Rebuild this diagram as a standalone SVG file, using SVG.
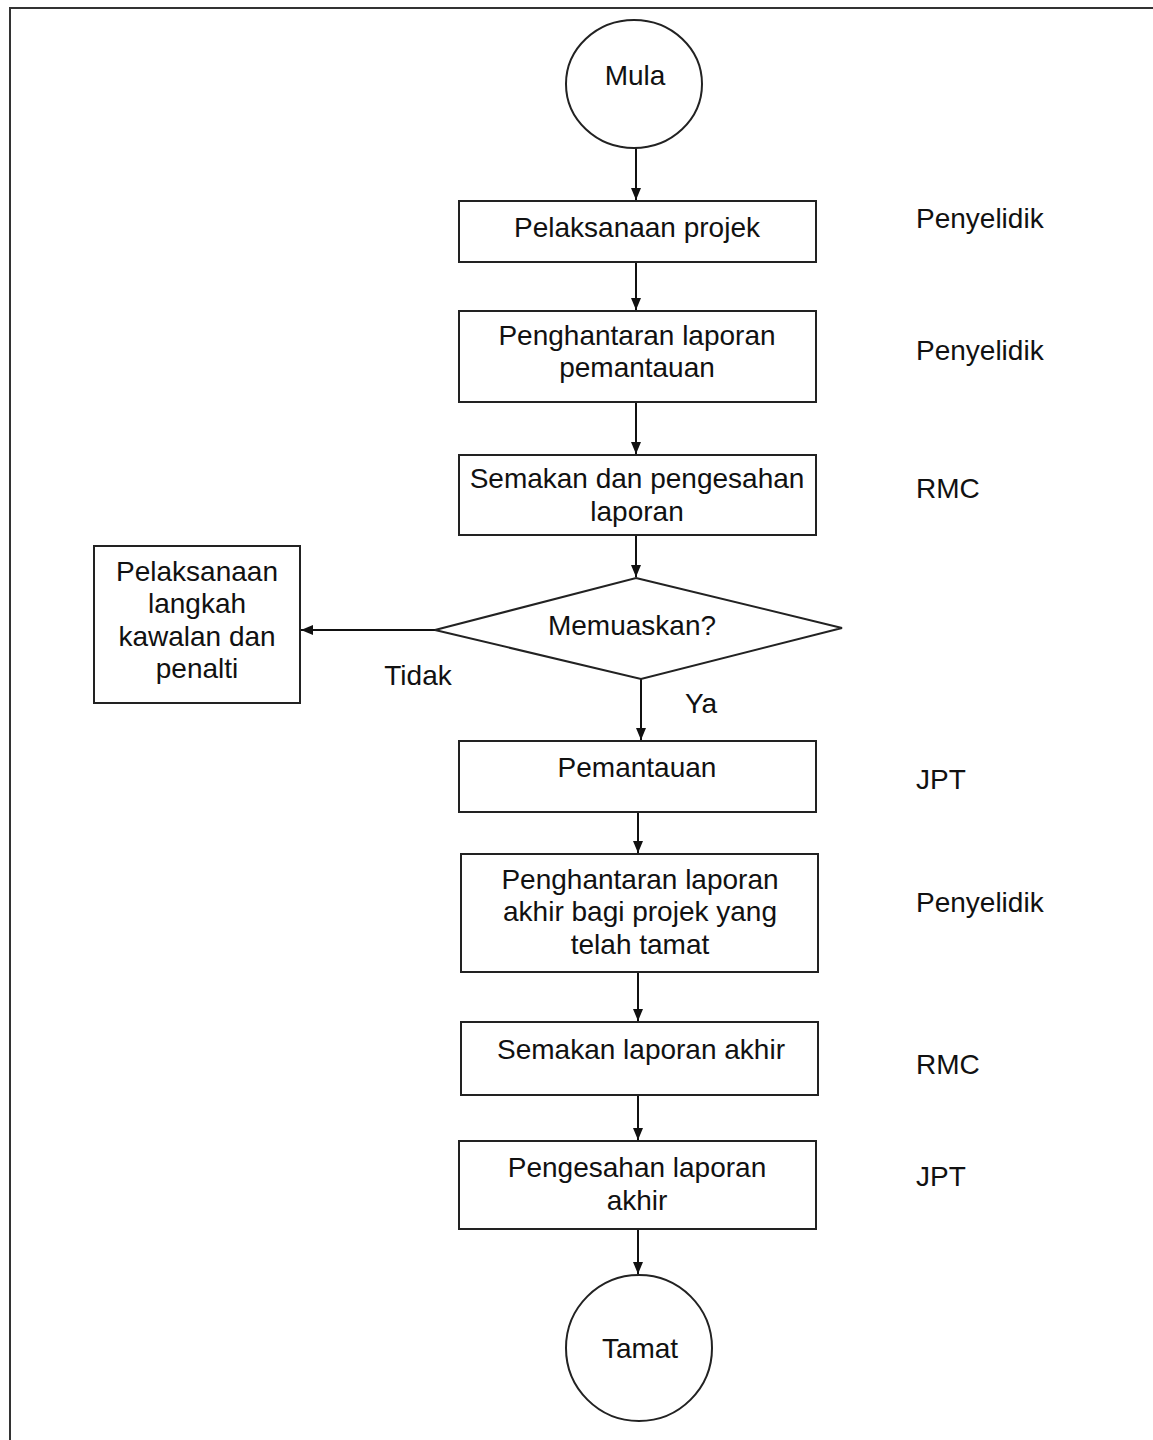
<svg xmlns="http://www.w3.org/2000/svg" width="1153" height="1440" viewBox="0 0 1153 1440">
<defs>
<style>
.n{fill:#fff;stroke:#222;stroke-width:2}
.t{font-family:"Liberation Sans",Arial,sans-serif;font-size:28px;fill:#111;text-anchor:middle}
.r{font-family:"Liberation Sans",Arial,sans-serif;font-size:28px;fill:#111;text-anchor:start}
.c{fill:none;stroke:#111;stroke-width:2}
</style>
<marker id="ah" viewBox="0 0 12 10" markerWidth="12" markerHeight="10" refX="12" refY="5" orient="auto" markerUnits="userSpaceOnUse">
<path d="M0,0 L12,5 L0,10 z" fill="#111"/>
</marker>
</defs>
<rect width="1153" height="1440" fill="#fff"/>
<rect x="10" y="8" width="1160" height="1450" fill="none" stroke="#333" stroke-width="2"/>

<g id="connectors">
<line class="c" x1="636" y1="148" x2="636" y2="200" marker-end="url(#ah)"/>
<line class="c" x1="636" y1="262" x2="636" y2="310" marker-end="url(#ah)"/>
<line class="c" x1="636" y1="402" x2="636" y2="454" marker-end="url(#ah)"/>
<line class="c" x1="636" y1="535" x2="636" y2="577" marker-end="url(#ah)"/>
<line class="c" x1="435" y1="630" x2="301" y2="630" marker-end="url(#ah)"/>
<line class="c" x1="641" y1="679" x2="641" y2="740" marker-end="url(#ah)"/>
<line class="c" x1="638" y1="812" x2="638" y2="853" marker-end="url(#ah)"/>
<line class="c" x1="638" y1="972" x2="638" y2="1021" marker-end="url(#ah)"/>
<line class="c" x1="638" y1="1095" x2="638" y2="1140" marker-end="url(#ah)"/>
<line class="c" x1="638" y1="1229" x2="638" y2="1274" marker-end="url(#ah)"/>
<text class="t" x="418" y="685">Tidak</text>
<text class="t" x="701" y="713">Ya</text>
</g>

<g id="mula">
<ellipse class="n" cx="634" cy="84" rx="68" ry="64"/>
<text class="t" x="635" y="85">Mula</text>
</g>

<g id="box1">
<rect class="n" x="459" y="201" width="357" height="61"/>
<text class="t" x="637" y="237">Pelaksanaan projek</text>
</g>

<g id="box2">
<rect class="n" x="459" y="311" width="357" height="91"/>
<text class="t" x="637" y="345">Penghantaran laporan</text>
<text class="t" x="637" y="377">pemantauan</text>
</g>

<g id="box3">
<rect class="n" x="459" y="455" width="357" height="80"/>
<text class="t" x="637" y="488">Semakan dan pengesahan</text>
<text class="t" x="637" y="521">laporan</text>
</g>

<g id="decision">
<polygon class="n" points="636,578 842,628 641,679 435,630"/>
<text class="t" x="632" y="635">Memuaskan?</text>
</g>

<g id="penalty">
<rect class="n" x="94" y="546" width="206" height="157"/>
<text class="t" x="197" y="581">Pelaksanaan</text>
<text class="t" x="197" y="613">langkah</text>
<text class="t" x="197" y="646">kawalan dan</text>
<text class="t" x="197" y="678">penalti</text>
</g>

<g id="box4">
<rect class="n" x="459" y="741" width="357" height="71"/>
<text class="t" x="637" y="777">Pemantauan</text>
</g>

<g id="box5">
<rect class="n" x="461" y="854" width="357" height="118"/>
<text class="t" x="640" y="889">Penghantaran laporan</text>
<text class="t" x="640" y="921">akhir bagi projek yang</text>
<text class="t" x="640" y="954">telah tamat</text>
</g>

<g id="box6">
<rect class="n" x="461" y="1022" width="357" height="73"/>
<text class="t" x="641" y="1059">Semakan laporan akhir</text>
</g>

<g id="box7">
<rect class="n" x="459" y="1141" width="357" height="88"/>
<text class="t" x="637" y="1177">Pengesahan laporan</text>
<text class="t" x="637" y="1210">akhir</text>
</g>

<g id="tamat">
<ellipse class="n" cx="639" cy="1348" rx="73" ry="73"/>
<text class="t" x="640" y="1358">Tamat</text>
</g>

<g id="roles">
<text class="r" x="916" y="228">Penyelidik</text>
<text class="r" x="916" y="360">Penyelidik</text>
<text class="r" x="916" y="498">RMC</text>
<text class="r" x="916" y="789">JPT</text>
<text class="r" x="916" y="912">Penyelidik</text>
<text class="r" x="916" y="1074">RMC</text>
<text class="r" x="916" y="1186">JPT</text>
</g>
</svg>
